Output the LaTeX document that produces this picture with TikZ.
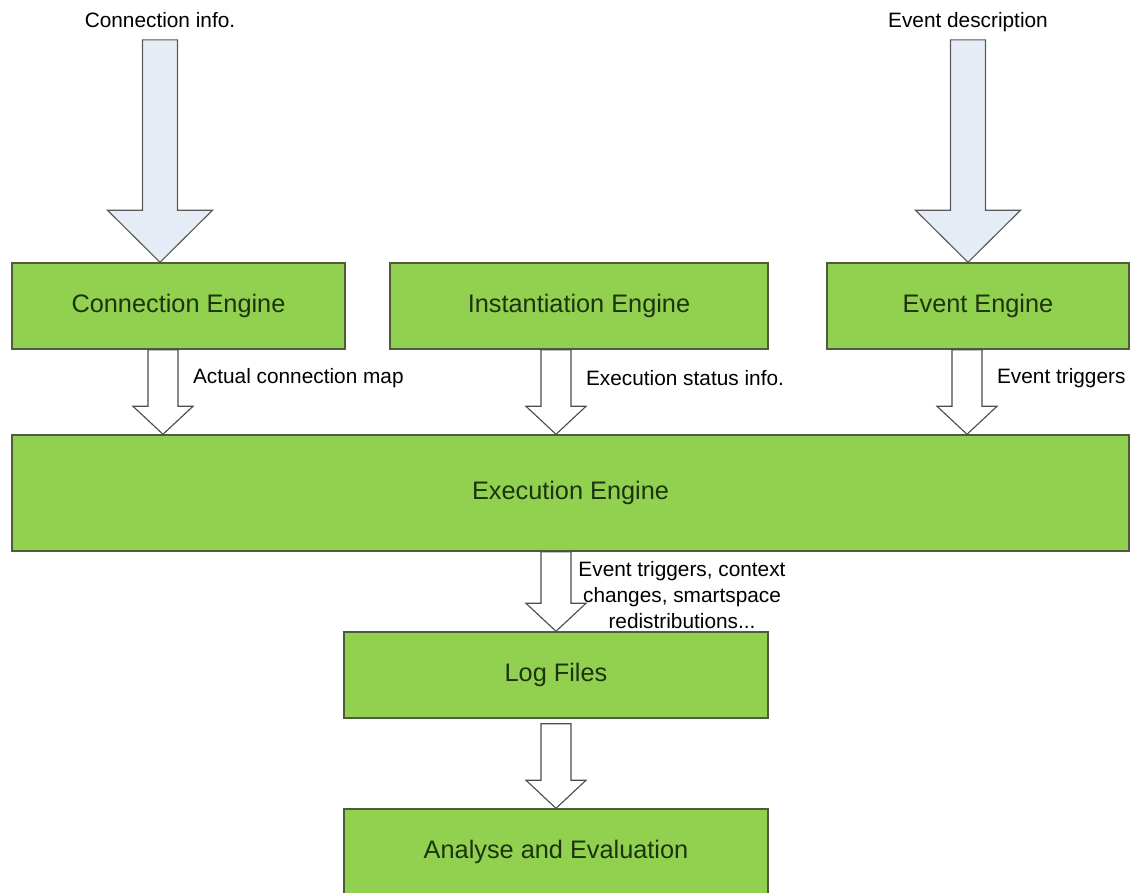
\documentclass[tikz,border=0pt]{standalone}
\usepackage{fontspec}
\setmainfont{Liberation Sans}
\usepackage{tikz}
\usetikzlibrary{calc}
\definecolor{enginegreen}{RGB}{146,208,80}
\definecolor{engineline}{RGB}{78,92,62}
\definecolor{enginetext}{RGB}{28,52,14}
\definecolor{inputblue}{RGB}{230,236,246}
\tikzstyle{engine}=[draw=engineline, line width=1pt, fill=enginegreen, text=enginetext, font=\fontsize{18}{21}\selectfont, minimum height=2.15cm, inner sep=0pt]
\tikzstyle{flowlabel}=[font=\fontsize{14.8}{18.5}\selectfont, inner sep=2pt]
\tikzstyle{inputlabel}=[flowlabel, text height=11pt, text depth=3pt]
\tikzstyle{inputarrow}=[draw=black!65, line width=0.8pt, fill=inputblue]
\tikzstyle{flowarrow}=[draw=black!70, line width=0.8pt, fill=white]

% big input arrow: x taken from #1, from #1 down to #2
\newcommand{\inputarrow}[2]{%
  \draw[inputarrow] let \p1=(#1), \p2=(#2) in
    (\x1-0.4375cm,\y1) -- (\x1-0.4375cm,\y2+1.3cm) -- (\x1-1.3125cm,\y2+1.3cm) -- (\x1,\y2)
    -- (\x1+1.3125cm,\y2+1.3cm) -- (\x1+0.4375cm,\y2+1.3cm) -- (\x1+0.4375cm,\y1) -- cycle;}
% hollow flow arrow at x = #1, from #2 down to #3
\newcommand{\flowarrow}[3]{%
  \draw[flowarrow] let \p1=(#2), \p2=(#3), \p3=(#1,0) in
    (\x3-0.375cm,\y1) -- (\x3-0.375cm,\y2+0.7cm) -- (\x3-0.75cm,\y2+0.7cm) -- (\x3,\y2)
    -- (\x3+0.75cm,\y2+0.7cm) -- (\x3+0.375cm,\y2+0.7cm) -- (\x3+0.375cm,\y1) -- cycle;}

\begin{document}
\begin{tikzpicture}[x=0.025cm, y=-0.025cm]
    \useasboundingbox (0,0) rectangle (1132,893);

    \node[inputlabel] (conninfo) at (160,22) {Connection info.};
    \node[inputlabel] (eventdesc) at (968,22) {Event description};

    \node[engine, minimum width=8.325cm] (conn) at (178.5,306) {Connection Engine};
    \node[engine, minimum width=9.45cm] (inst) at (579,306) {Instantiation Engine};
    \node[engine, minimum width=7.55cm] (event) at (978,306) {Event Engine};
    \node[engine, minimum width=27.925cm, minimum height=2.9cm] (exec) at (570.5,493) {Execution Engine};
    \node[engine, minimum width=10.6cm] (log) at (556,675) {Log Files};
    \node[engine, minimum width=10.6cm] (eval) at (556,852) {Analyse and Evaluation};

    \inputarrow{$(conninfo.south)+(0,5)$}{conn.north -| conninfo.south}
    \inputarrow{$(eventdesc.south)+(0,5)$}{event.north -| eventdesc.south}

    \flowarrow{163}{conn.south}{exec.north}
    \flowarrow{556}{inst.south}{exec.north}
    \flowarrow{967}{event.south}{exec.north}
    \flowarrow{556}{exec.south}{log.north}
    \flowarrow{556}{$(log.south)+(0,5)$}{eval.north}

    \node[flowlabel, anchor=west] (mapinfo) at (190,378) {Actual connection map};
    \node[flowlabel, anchor=west] (statusinfo) at (583,378) {Execution status info.};
    \node[flowlabel, anchor=west] (triginfo) at (994,378) {Event triggers};
    \node[flowlabel, align=center] (loginfo) at (682,595) {Event triggers, context\\changes, smartspace\\redistributions...};
\end{tikzpicture}
\end{document}
